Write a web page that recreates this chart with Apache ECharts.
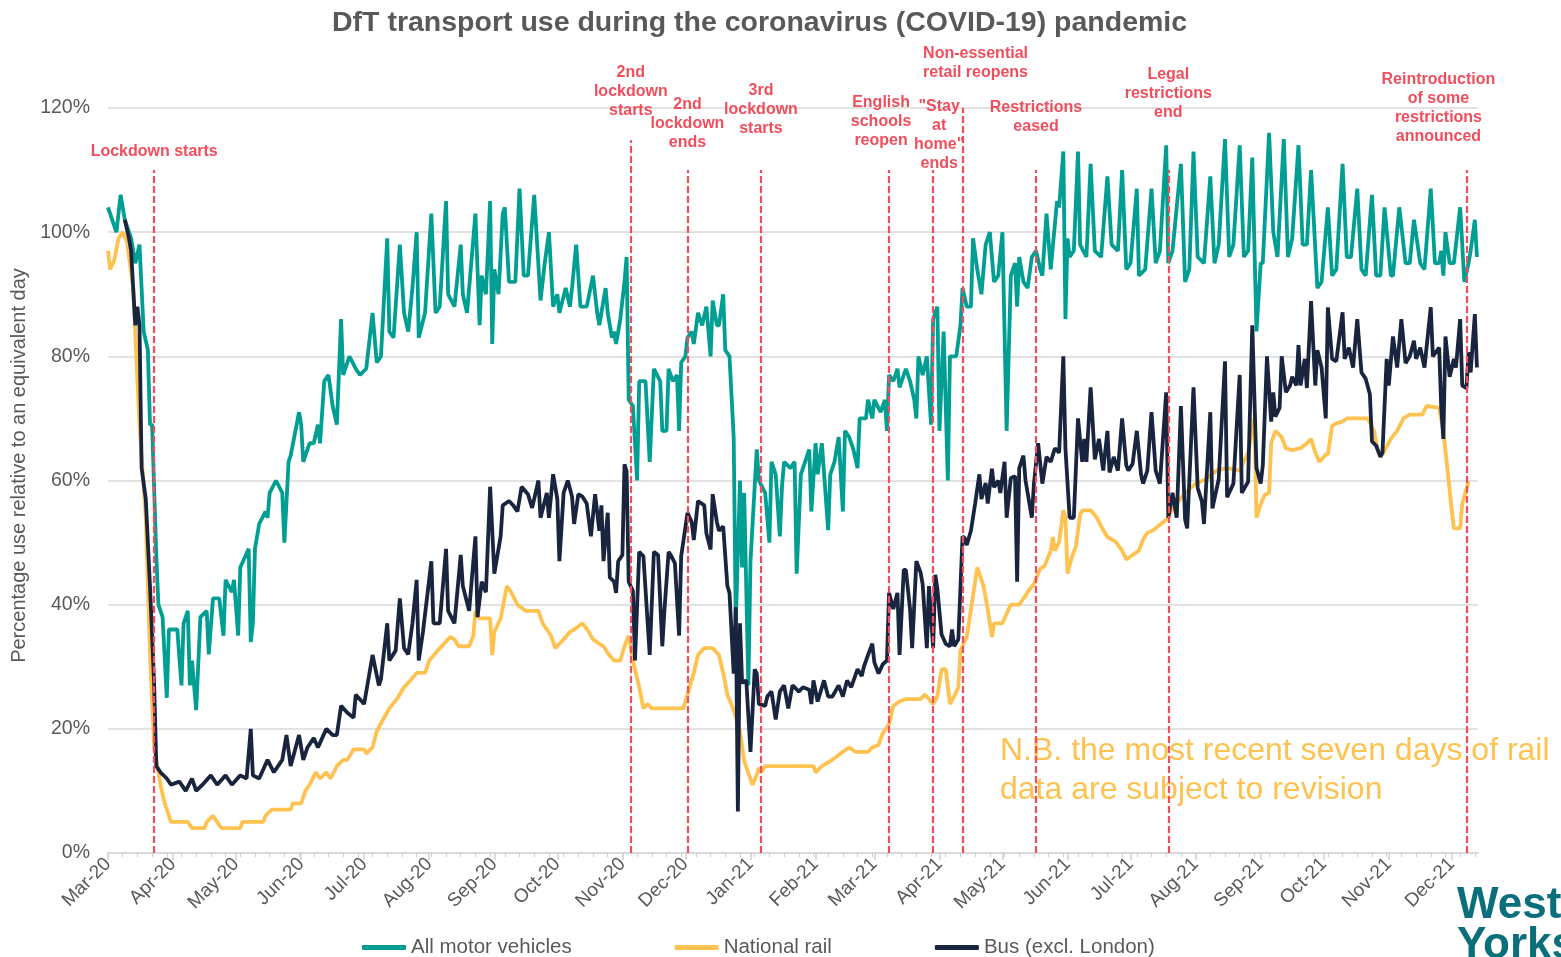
<!DOCTYPE html>
<html>
<head>
<meta charset="utf-8">
<title>DfT transport use during the coronavirus (COVID-19) pandemic</title>
<script src="https://cdn.jsdelivr.net/npm/echarts@6/dist/echarts.min.js"></script>
<style>
  html, body { margin: 0; padding: 0; background: #fff; }
  #myChart { width: 1561px; height: 957px; }
</style>
</head>
<body>
<div id="myChart"></div>
<script>
// x values are days counted from 1 Mar 2020, y values are % of an equivalent day
const seriesNames = ["All motor vehicles", "National rail", "Bus (excl. London)"];
const lastDay = 652;

const motorVehicles = [
  [0,104],[4,100],[6,106],[8,102],[11,99],[13,95],[15,98],[17,84],[19,81],[20,69],[21,69],[23,48],[24,40],[26,38],[28,25],[29,36],[33,36],[35,27],[36,37],[38,39],[39,27],[40,31],[42,23],[44,38],[47,39],[48,32],[50,41],[53,41],[55,35],[56,44],[59,42],[60,44],[62,35],[63,46],[67,49],[68,34],[69,37],[70,49],[72,53],[75,55],[76,54],[77,58],[80,60],[83,58],[84,50],[86,63],[87,64],[91,71],[92,69],[93,63],[96,66],[98,66],[100,69],[101,66],[103,76],[105,77],[107,72],[109,69],
  [111,86],[112,77],[115,80],[118,78],[120,77],[123,78],[126,87],[128,79],[130,80],[133,99],[134,84],[136,83],[139,98],[141,87],[143,84],[145,91],[147,100],[148,83],[151,87],[154,103],[156,87],[158,88],[161,105],[162,90],[165,88],[168,98],[169,90],[171,87],[172,91],[175,103],[177,85],[178,93],[180,90],[182,105],[183,82],[184,94],[186,90],[188,103],[189,104],[191,92],[194,92],[196,107],[198,93],[200,93],[203,106],[206,89],[208,95],[210,100],[212,88],[214,90],[215,87],[218,91],[220,88],
  [221,91],[223,98],[225,88],[228,88],[231,93],[233,87],[234,85],[237,91],[238,87],[240,83],[241,84],[242,82],[244,86],[246,92],[247,96],[248,73],[250,72],[252,60],[253,76],[256,76],[258,63],[260,78],[263,76],[264,68],[266,68],[267,78],[269,76],[271,77],[272,68],[273,79],[275,80],[276,83],[278,84],[279,82],[281,87],[283,85],[285,88],[287,80],[288,89],[290,85],[291,85],[293,90],[294,81],[296,80],[298,67],[299,37],[301,60],[302,46],[303,58],[305,27],[306,47],[309,65],[310,60],[313,58],[315,50],[316,63],[318,61],[320,51],[321,59],[322,63],
  [325,62],[327,63],[328,45],[330,61],[334,65],[335,55],[337,66],[338,61],[340,66],[343,52],[344,61],[346,63],[348,67],[350,55],[351,68],[353,67],[355,65],[357,62],[358,70],[361,70],[362,73],[364,70],[365,73],[368,71],[370,73],[371,68],[372,77],[374,76],[376,78],[377,75],[380,78],[382,76],[384,73],[385,70],[386,80],[388,77],[390,80],[392,69],[393,86],[395,88],[396,68],[398,84],[400,60],[401,80],[404,80],[406,85],[407,91],[409,88],[411,88],[412,99],[414,94],[416,90],[418,98],[420,100],[422,92],[424,93],[426,100],[428,68],[430,93],[432,95],[433,88],
  [434,96],[436,92],[438,91],[440,96],[442,97],[444,94],[445,93],[447,103],[449,94],[452,105],[453,104],[455,113],[456,86],[457,99],[458,96],[460,97],[462,113],[463,98],[466,96],[468,111],[470,97],[473,96],[476,109],[478,98],[481,97],[483,110],[485,94],[487,95],[490,107],[491,93],[494,94],[497,107],[499,95],[501,97],[504,114],[505,95],[507,97],[511,111],[513,92],[515,94],[517,113],[519,96],[522,95],[525,109],[527,95],[529,98],[532,115],[534,96],[536,98],[539,114],[541,96],[543,97],[545,112],[547,84],[549,95],[550,95],
  [553,116],[555,100],[557,96],[560,115],[562,96],[564,99],[567,114],[569,98],[571,98],[573,110],[576,91],[578,92],[581,104],[583,93],[585,94],[588,111],[590,96],[592,96],[595,107],[597,94],[599,93],[602,106],[604,93],[606,93],[608,104],[611,93],[612,93],[615,104],[618,95],[620,95],[622,102],[625,95],[627,94],[630,107],[632,95],[634,95],[635,97],[636,93],[637,100],[639,95],[641,95],[644,104],[646,92],[648,95],[649,97],[651,102],[652,96]
];

const nationalRail = [
  [0,97],[1,94],[3,95.5],[5,99],[7,100],[9,98.5],[12,91],[15,69],[18,54],[20,32],[22,17],[25,11],[27,8],[30,5],[38,5],[40,4],[46,4],[47,5],[50,6],[52,5],[54,4],[63,4],[64,5],[74,5],[75,6],[78,7],[87,7],[88,8],[92,8],[94,10],[96,11],[99,13],[101,12],[104,13],[106,12],[109,14],[112,15],[114,15],[117,16.7],[122,16.7],[123,16],[126,17],[128,19.6],[131,21.5],[134,23.3],[138,25],[141,26.7],[144,27.8],[147,29],[151,29],[153,31],[157,32.6],[160,33.7],[163,34.8],[165,34.4],[167,33.3],[172,33.3],[174,35],[175,39],[177,37.8],[182,37.8],[183,31.9],[184,35.6],[187,37.8],[190,43],[192,42],[195,40],[199,39],[205,39],[207,37],[211,35],[213,33],[215,33.7],[217,34.4],
  [220,35.6],[222,36],[226,37],[229,35.6],[231,34.4],[234,33.7],[236,33.3],[238,32.2],[241,31],[244,31],[246,33.3],[248,35],[250,31],[253,26.7],[255,23.3],[257,24],[259,23.3],[274,23.3],[276,25.5],[279,29],[281,31.9],[284,33],[288,33],[291,31.9],[293,29],[295,25.5],[298,23],[301,19.6],[303,14.8],[306,11.9],[307,11],[309,12.6],[310,13.7],[311,13],[313,14],[336,14],[337,13],[340,14],[344,14.8],[347,15.5],[350,16.3],[353,17],[356,16.3],[362,16.3],[364,17],[367,17.4],[369,19.3],[372,20.7],[374,23.7],[377,24.4],[380,24.8],[387,24.8],[389,25.5],[391,24.8],[393,24],[395,25.2],[397,29.6],[399,29.6],[401,24],[403,25.2],[405,26.7],[406,32.6],[409,34.8],[410,37],[412,41.5],[414,46],[417,43],[419,39.3],[421,34.8],[422,37],[426,37],[429,39.3],[430,40],[434,40],
  [436,41],[439,42.5],[441,43.3],[444,45.8],[446,46.2],[449,48.7],[450,50.9],[451,48.7],[453,50.1],[455,55.2],[456,54],[457,45],[459,47.6],[461,49.4],[463,54.5],[464,55.2],[468,55.2],[471,54],[473,52.6],[476,50.9],[478,50.5],[480,50.1],[483,48.7],[485,47.3],[488,48],[491,48.7],[493,50.5],[495,51.6],[498,52],[500,52.6],[503,53.4],[505,54],[507,55.5],[513,58],[518,59.5],[523,60.2],[528,61.6],[533,62],[539,61.6],[543,64.5],[546,70],[547,54],[549,56.2],[551,57.7],[553,58],[554,66],[556,68],[559,67],[561,65.2],[564,64.9],[568,65.2],[571,66],[573,66.7],[575,64.5],[577,63],[580,64.2],[581,64.2],[583,68.8],[585,69.2],[588,69.5],[590,70],[600,70],[603,68],[605,64.5],[607,64.2],[611,66.7],[614,68],[617,70],[620,70.6],[626,70.6],[628,72],[634,71.7],[636,68],[638,61.6],[640,55.2],[641,52.3],[644,52.3],[645,56.2],[648,59.8]
];

const busExLondon = [
  [8,102],[10,99],[11,97],[13,85],[14,88],[15,85],[16,62],[18,57],[20,43],[22,27],[23,14],[25,13],[28,12],[30,11],[34,11.5],[37,10],[40,12],[42,10],[45,11],[49,12.5],[52,11],[56,12.5],[59,11],[63,12.5],[66,12],[68,20],[69,12.5],[72,12],[76,15],[79,13],[83,15],[85,19],[87,14],[91,19],[93,15],[95,17],[98,18.5],[100,17],[102,18.5],[104,20],[107,19],[109,19],
  [111,23.7],[114,22.6],[117,21.8],[118,25.5],[122,24],[126,31.9],[129,27],[130,28],[133,37],[134,31],[137,32.6],[139,41],[141,33],[143,32],[145,37],[147,44],[148,31],[150,35.6],[154,47],[155,37],[158,37],[161,49],[162,39],[165,37],[168,48],[169,43],[172,39],[175,51],[176,38],[178,43.7],[180,42],[182,59],[184,45],[187,51],[188,56],[191,56.7],[193,56],[195,55],[197,59],[200,57.8],[202,55.6],[205,60],[206,54],[209,58],[210,54],[212,61],[214,57],[215,47],[217,58],[219,60],
  [221,57.4],[222,53],[224,57.8],[226,57.4],[228,56.3],[230,51],[232,57.8],[234,51.9],[235,56],[236,47],[238,54.8],[239,44.4],[241,43.7],[242,41.9],[243,47],[245,48],[246,62.6],[247,61.5],[248,43.7],[250,42.2],[251,31],[253,48.5],[255,47.8],[258,31.9],[260,48.5],[262,48],[264,33.3],[265,39],[267,48.5],[268,48],[270,46.7],[272,35],[273,47.8],[276,54.8],[278,53.3],[279,50.4],[281,56.7],[284,56],[285,51.5],[287,48.9],[288,57.8],[290,53.3],[291,51.9],[293,52.6],[295,43],[296,41.9],[298,28.9],[299,39.6],[300,6.7],[301,37],[302,27.4],[304,27.8],[306,16.3],[308,29.6],[309,28.9],[310,24],[313,23.7],[314,25.2],[316,26],[318,21.5],[320,26],[322,27],[324,23.3],
  [326,27],[327,26.7],[329,26],[331,26.7],[334,26.3],[335,24],[336,27.8],[338,24.4],[341,27.8],[343,25.2],[345,25.2],[348,27],[350,25.2],[352,27.8],[354,26.7],[357,29.6],[359,28.5],[360,30],[362,31.9],[364,33.7],[365,30.7],[367,28.9],[369,30.4],[371,31],[372,41.9],[374,39.3],[376,41.9],[377,31.9],[379,45.6],[380,45.6],[382,39.3],[383,33],[385,47],[387,45.2],[388,43.3],[390,33],[391,43],[393,33],[394,44.8],[395,42.6],[397,35.2],[399,33.7],[401,33.3],[402,36],[403,33.3],[405,34.4],[407,51],[408,50.7],[409,49.6],[411,51.9],[413,56.3],[415,61],[416,57],[418,59.6],[419,56.3],[421,61.9],[422,58.9],[424,60],[425,58],[427,63],[428,54],[430,60.4],[432,60.7],[433,43.7],
  [434,62],[436,64],[437,60],[440,54],[441,59.5],[443,66],[445,59.5],[447,63.8],[449,63],[451,65.2],[453,64.5],[455,80],[456,65.2],[458,54],[460,54],[462,70],[464,63],[465,66.7],[466,63],[468,75],[470,63.4],[472,66.7],[474,61.6],[476,68],[477,61.3],[479,63.8],[481,61.6],[483,70],[485,62.4],[486,61.6],[488,62.7],[490,68],[492,61],[493,59.5],[495,61.6],[497,71],[499,61.6],[501,59.5],[504,74.2],[505,54],[507,58],[509,54],[511,72],[513,53.7],[514,52.3],[517,75],[519,58.8],[521,56.6],[522,53],[525,71],[526,55.5],[529,60.2],[532,79.2],[533,57.3],[536,59.5],[539,77],[540,58],[543,59.8],[545,85],[547,62],[549,59.5],[550,62.4],
  [552,80],[554,69.5],[555,74.2],[556,70.3],[558,71.7],[559,80],[561,74.2],[563,75.3],[564,76.7],[566,75.3],[567,81.8],[568,75.3],[570,79.6],[571,74.9],[573,88.9],[575,75.3],[576,81],[578,78.2],[580,70],[581,87.9],[583,79.6],[585,79.2],[588,87.1],[589,79.6],[591,81.4],[593,78.2],[595,86],[597,77.4],[599,76.4],[601,73.9],[602,66.3],[604,65.6],[606,63.8],[607,64.5],[609,79.6],[610,75.3],[612,83.2],[614,78.2],[616,86],[618,78.9],[620,80],[622,82.5],[623,79.6],[625,81.4],[627,78.2],[630,87.9],[631,80],[634,81.4],[635,71.7],[636,66.7],[637,83.2],[639,76.7],[641,79.6],[642,78.2],[644,86],[645,75.3],[647,74.9],[648,80.7],[649,77.4],[651,86.8],[652,78.2]
];

const eventDates = ["2020-03-23", "2020-11-05", "2020-12-02", "2021-01-06", "2021-03-08", "2021-03-29", "2021-04-12", "2021-05-17", "2021-07-19", "2021-12-08"];
const eventLabels = [
  "Lockdown starts",
  "2nd\nlockdown\nstarts",
  "2nd\nlockdown\nends",
  "3rd\nlockdown\nstarts",
  "English\nschools\nreopen",
  "\"Stay\nat\nhome\"\nends",
  "Non-essential\nretail reopens",
  "Restrictions\neased",
  "Legal\nrestrictions\nend",
  "Reintroduction\nof some\nrestrictions\nannounced"
];
const monthNames = ["Jan", "Feb", "Mar", "Apr", "May", "Jun", "Jul", "Aug", "Sep", "Oct", "Nov", "Dec"];

// where each dashed line stops (in %) and how its label sits
const eventLineTop = [110, 114.8, 110, 110, 110, 110, 120, 110, 110, 110];
const eventLabelGap = [9, 20, 18, 32, 20, -3, 26, 34, 48, 24];
const eventLabelShift = [0, 0, 0, 0, -8, 6, 13, 0, 0, -28];

var DAY = 86400000;
var startTime = Date.UTC(2020, 2, 1);
function dateToDay(s) {
  var p = s.split("-");
  return Math.round((Date.UTC(+p[0], +p[1] - 1, +p[2]) - startTime) / DAY);
}
function dayToDate(d) {
  return new Date(startTime + d * DAY);
}

var monthTicks = [];
for (var i = 0; i < 22; i++) monthTicks.push(Math.round((Date.UTC(2020, 2 + i, 1) - startTime) / DAY));
var weekTicks = [];
for (var d = 0; d <= lastDay; d += 7) weekTicks.push(d);

var font = "Arial, 'Liberation Sans', sans-serif";
var grey = "#595959";
var red = "#f04e5c";
var colors = ["#009e93", "#fec250", "#19253f"];

let myChart = echarts.init(document.getElementById("myChart"));
var option;

option = {
  animation: false,
  backgroundColor: "#ffffff",
  title: {
    text: "DfT transport use during the coronavirus (COVID-19) pandemic",
    left: 327,
    top: 4,
    textStyle: { fontFamily: font, fontSize: 28.5, fontWeight: "bold", color: grey },
  },
  legend: {
    data: seriesNames,
    left: 357,
    top: 932,
    icon: "roundRect",
    itemWidth: 44,
    itemHeight: 5,
    itemGap: 103,
    textStyle: { fontFamily: font, fontSize: 20.5, color: grey },
  },
  grid: { left: 108, right: 83, top: 108, bottom: 104 },
  xAxis: [
    {
      type: "value",
      min: 0,
      max: lastDay + 0.5,
      axisLine: { lineStyle: { color: "#d9d9d9", width: 2 } },
      axisTick: { show: true, customValues: monthTicks, length: 7, lineStyle: { color: "#cfcfcf", width: 1.5 } },
      axisLabel: {
        customValues: monthTicks,
        rotate: 45,
        margin: 8,
        fontFamily: font,
        fontSize: 19,
        color: grey,
        formatter: function (val) {
          var dt = dayToDate(val);
          return monthNames[dt.getUTCMonth()] + "-" + String(dt.getUTCFullYear()).slice(2);
        },
      },
      splitLine: { show: false },
    },
    {
      type: "value",
      min: 0,
      max: lastDay + 0.5,
      position: "bottom",
      axisLine: { show: false },
      axisTick: { show: true, customValues: weekTicks, length: 4, lineStyle: { color: "#cfcfcf", width: 1 } },
      axisLabel: { show: false },
      splitLine: { show: false },
    },
  ],
  yAxis: {
    type: "value",
    min: 0,
    max: 120,
    interval: 20,
    name: "Percentage use relative to an equivalent day",
    nameLocation: "middle",
    nameRotate: 90,
    nameGap: 78,
    nameTextStyle: { fontFamily: font, fontSize: 20, color: grey, padding: [0, 0, 0, 30] },
    axisLine: { show: false },
    axisTick: { show: false },
    axisLabel: { formatter: "{value}%", fontFamily: font, fontSize: 19.5, color: grey, margin: 18 },
    splitLine: { lineStyle: { color: "#d9d9d9", width: 1.5 } },
  },
  graphic: [
    {
      type: "text",
      left: 1000,
      top: 732,
      z: 1,
      style: {
        text: "N.B. the most recent seven days of rail\ndata are subject to revision",
        fill: "#fec250",
        font: "32px " + font,
        lineHeight: 39,
      },
    },
    {
      type: "text",
      left: 1457,
      top: 884,
      style: { text: "West\nYorkshire", fill: "#0b6f7b", font: "bold 44px " + font, lineHeight: 40 },
    },
  ],
  series: [
    {
      name: seriesNames[0],
      type: "line",
      data: motorVehicles,
      symbol: "none",
      lineStyle: { width: 3.8, color: colors[0] },
      itemStyle: { color: colors[0] },
      z: 2,
    },
    {
      name: seriesNames[1],
      type: "line",
      data: nationalRail,
      symbol: "none",
      lineStyle: { width: 3.8, color: colors[1] },
      itemStyle: { color: colors[1] },
      z: 3,
    },
    {
      name: seriesNames[2],
      type: "line",
      data: busExLondon,
      symbol: "none",
      clip: false,
      lineStyle: { width: 3.8, color: colors[2] },
      itemStyle: { color: colors[2] },
      z: 4,
      markLine: {
        silent: true,
        symbol: ["none", "none"],
        lineStyle: { color: red, type: [7, 3], width: 2.2 },
        label: {
          show: true,
          position: "end",
          formatter: "{b}",
          color: red,
          fontFamily: font,
          fontWeight: "bold",
          fontSize: 16,
          lineHeight: 19,
          align: "center",
        },
        data: eventDates.map(function (s, i) {
          var x = dateToDay(s);
          return [
            {
              name: eventLabels[i],
              coord: [x, 0],
              label: { distance: eventLabelGap[i], offset: [eventLabelShift[i], 0] },
            },
            { coord: [x, eventLineTop[i]] },
          ];
        }),
      },
    },
  ],
};

option && myChart.setOption(option);
</script>
</body>
</html>
